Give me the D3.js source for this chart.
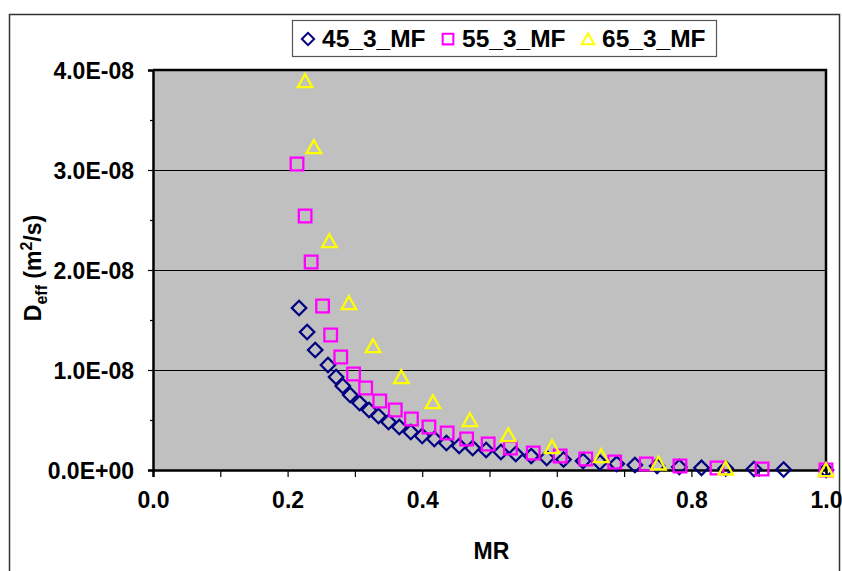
<!DOCTYPE html>
<html>
<head>
<meta charset="utf-8">
<script src="https://cdn.jsdelivr.net/npm/d3@7"></script>
<style>
  body { margin: 0; background: #fff; }
  svg text { font-family: Arial, "Liberation Sans", sans-serif; font-weight: bold; }
</style>
</head>
<body>
<script>
// series: moisture ratio (MR) and effective diffusivity (m2/s)
var mr45 = [0.217, 0.229, 0.241, 0.260, 0.272, 0.282, 0.293, 0.307, 0.321, 0.335, 0.350, 0.366, 0.383, 0.400,
            0.418, 0.436, 0.455, 0.475, 0.495, 0.517, 0.539, 0.562, 0.585, 0.610, 0.639, 0.664, 0.689, 0.716,
            0.749, 0.782, 0.815, 0.851, 0.893, 0.937, 1.0];
var deff45 = [1.62, 1.38, 1.20, 1.05, 0.93, 0.84, 0.75, 0.67, 0.60, 0.54, 0.48, 0.43, 0.38, 0.34,
              0.31, 0.27, 0.24, 0.22, 0.20, 0.18, 0.16, 0.14, 0.12, 0.105, 0.09, 0.075, 0.062, 0.05,
              0.04, 0.03, 0.022, 0.015, 0.01, 0.005, 0.0].map(function(v){ return v * 1e-8 });

var mr55 = [0.214, 0.226, 0.235, 0.252, 0.264, 0.279, 0.298, 0.316, 0.337, 0.360, 0.384, 0.410, 0.437,
            0.466, 0.498, 0.531, 0.565, 0.605, 0.643, 0.686, 0.733, 0.783, 0.838, 0.905, 1.0];
var deff55 = [3.06, 2.54, 2.08, 1.64, 1.35, 1.13, 0.96, 0.82, 0.69, 0.60, 0.51, 0.43, 0.37,
              0.31, 0.26, 0.22, 0.17, 0.14, 0.11, 0.08, 0.06, 0.04, 0.02, 0.01, 0.0].map(function(v){ return v * 1e-8 });

var mr65 = [0.226, 0.239, 0.262, 0.291, 0.327, 0.369, 0.416, 0.471, 0.528, 0.593, 0.666, 0.751, 0.851, 1.0];
var deff65 = [3.89, 3.23, 2.29, 1.67, 1.24, 0.93, 0.68, 0.50, 0.35, 0.23, 0.14, 0.067, 0.017, 0.0].map(function(v){ return v * 1e-8 });

var seriesNames = ['45_3_MF', '55_3_MF', '65_3_MF'];
var xTicks = [0, 0.2, 0.4, 0.6, 0.8, 1.0];
var xMinor = [0.1, 0.3, 0.5, 0.7, 0.9];
var yTicks = [0, 1e-8, 2e-8, 3e-8, 4e-8];
var yTickLabels = ['0.0E+00', '1.0E-08', '2.0E-08', '3.0E-08', '4.0E-08'];
var yMinor = [0.5e-8, 1.5e-8, 2.5e-8, 3.5e-8];

var W = 842, H = 571;
var plot = {left: 153, right: 826, top: 70, bottom: 470};

var svg = d3.select('body').append('svg')
    .attr('width', W).attr('height', H);

// chart frame
svg.append('rect')
    .attr('x', 9.5).attr('y', 14.5).attr('width', 830).attr('height', 600)
    .attr('fill', '#fff').attr('stroke', '#333').attr('stroke-width', 1.5);

var x = d3.scaleLinear().domain([0, 1]).range([plot.left, plot.right]);
var y = d3.scaleLinear().domain([0, 4e-8]).range([plot.bottom, plot.top]);

svg.append('rect')
    .attr('x', plot.left).attr('y', plot.top)
    .attr('width', plot.right - plot.left).attr('height', plot.bottom - plot.top)
    .attr('fill', '#c0c0c0');

// gridlines
svg.append('g').selectAll('line')
    .data(yTicks.slice(1, -1))
    .join('line')
        .attr('x1', plot.left).attr('x2', plot.right)
        .attr('y1', function(d){ return Math.round(y(d)) + 0.5 })
        .attr('y2', function(d){ return Math.round(y(d)) + 0.5 })
        .attr('stroke', '#000').attr('stroke-width', 1);

// plot border top/right
svg.append('path')
    .attr('d', 'M' + plot.left + ',' + plot.top + 'H' + plot.right + 'V' + plot.bottom)
    .attr('fill', 'none').attr('stroke', '#000').attr('stroke-width', 2.5);

// axes
var axisX = d3.axisBottom(x).tickValues(xTicks).tickSize(7).tickFormat(d3.format('.1f'));
var $x = svg.append('g')
    .attr('class', 'x axis')
    .attr('transform', 'translate(0,' + plot.bottom + ')')
    .call(axisX);
$x.select('.domain').attr('stroke-width', 2.5);
$x.selectAll('.tick line').attr('stroke-width', 1.2);
$x.selectAll('.tick text')
    .attr('y', 22).attr('dy', '0.71em')
    .style('font-size', '23px').attr('fill', '#000');

var axisXMinor = d3.axisBottom(x).tickValues(xMinor).tickSize(7).tickFormat('');
var $xm = svg.append('g')
    .attr('transform', 'translate(0,' + plot.bottom + ')')
    .call(axisXMinor);
$xm.select('.domain').remove();
$xm.selectAll('.tick line').attr('stroke-width', 1.2);

var axisY = d3.axisLeft(y).tickValues(yTicks).tickSize(5)
    .tickFormat(function(d, i){ return yTickLabels[i] });
var $y = svg.append('g')
    .attr('class', 'y axis')
    .attr('transform', 'translate(' + plot.left + ',0)')
    .call(axisY);
$y.select('.domain').attr('stroke-width', 2.5);
$y.selectAll('.tick line').attr('stroke-width', 1.2);
$y.selectAll('.tick text')
    .attr('x', -19).attr('dy', '0.36em')
    .style('font-size', '23px').attr('fill', '#000');

var axisYMinor = d3.axisLeft(y).tickValues(yMinor).tickSize(3).tickFormat('');
var $ym = svg.append('g')
    .attr('transform', 'translate(' + plot.left + ',0)')
    .call(axisYMinor);
$ym.select('.domain').remove();
$ym.selectAll('.tick line').attr('stroke-width', 1.2);

// markers
var diamond = 'M0,-7.2L7.2,0L0,7.2L-7.2,0Z';
var square = 'M-6.3,-6.3H6.3V6.3H-6.3Z';
var triangle = 'M0,-6.8L7.3,6.2H-7.3Z';

var series = [
    {name: seriesNames[0], mr: mr45, deff: deff45, path: diamond, color: '#000080'},
    {name: seriesNames[1], mr: mr55, deff: deff55, path: square, color: '#ff00ff'},
    {name: seriesNames[2], mr: mr65, deff: deff65, path: triangle, color: '#ffff00'}
];

series.forEach(function(s){
    svg.append('g').selectAll('path')
        .data(d3.range(s.mr.length))
        .join('path')
            .attr('d', s.path)
            .attr('transform', function(i){ return 'translate(' + x(s.mr[i]) + ',' + y(s.deff[i]) + ')' })
            .attr('fill', 'none')
            .attr('stroke', s.color)
            .attr('stroke-width', 2.3);
});

// legend
var legend = svg.append('g');
legend.append('rect')
    .attr('x', 292.5).attr('y', 20.5).attr('width', 424).attr('height', 36)
    .attr('fill', '#fff').attr('stroke', '#555').attr('stroke-width', 1.2);
var legX = [308, 448, 588];
series.forEach(function(s, i){
    legend.append('path')
        .attr('d', s.path)
        .attr('transform', 'translate(' + legX[i] + ',39) scale(0.85)')
        .attr('fill', 'none').attr('stroke', s.color).attr('stroke-width', 2.4);
    legend.append('text')
        .attr('x', legX[i] + 14).attr('y', 47)
        .style('font-size', '24.5px')
        .text(s.name);
});

// axis titles
svg.append('text')
    .attr('x', (plot.left + plot.right) / 2 + 2).attr('y', 559)
    .attr('text-anchor', 'middle')
    .style('font-size', '23px')
    .text('MR');

var yt = svg.append('text')
    .attr('transform', 'translate(41,268) rotate(-90)')
    .attr('text-anchor', 'middle')
    .style('font-size', '23px');
yt.append('tspan').text('D');
yt.append('tspan').attr('dy', 6).style('font-size', '16px').text('eff');
yt.append('tspan').attr('dy', -6).text(' (m');
yt.append('tspan').attr('dy', -9).style('font-size', '16px').text('2');
yt.append('tspan').attr('dy', 9).text('/s)');
</script>
</body>
</html>
